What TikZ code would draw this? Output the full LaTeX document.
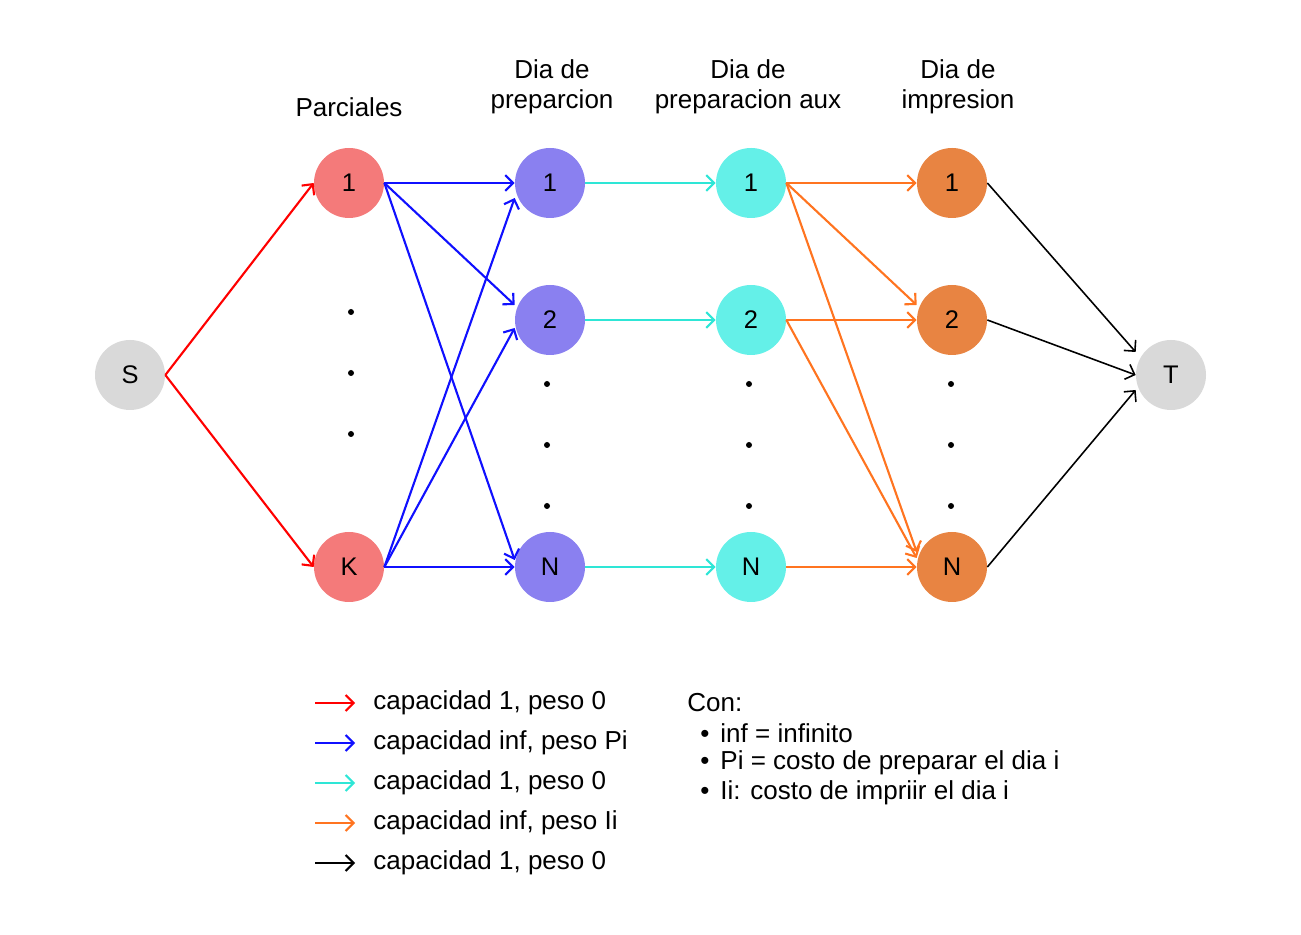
\documentclass[tikz,border=0pt]{standalone}
\usepackage{fontspec}
\setmainfont{Liberation Sans}
\usetikzlibrary{arrows.meta}

\definecolor{nodoparcial}{HTML}{F47A7A}
\definecolor{nodoprep}{HTML}{8A80F0}
\definecolor{nodoaux}{HTML}{64F0E8}
\definecolor{nodoimp}{HTML}{E88442}
\definecolor{nodoext}{HTML}{D9D9D9}
\definecolor{flechaazul}{HTML}{1010FF}
\definecolor{flechacian}{HTML}{2EE6D6}
\definecolor{flechanaranja}{HTML}{FF7420}

\tikzset{
	vertex/.style={circle,minimum size=1.4cm,inner sep=0pt,font=\fontsize{14.5}{17}\selectfont},
	edge/.style={line width=1.2pt,-{Straight Barb[length=4.5pt,width=9pt]}},
	header/.style={align=center,font=\fontsize{14.8}{17}\selectfont},
	legtext/.style={anchor=west,inner sep=0pt,font=\fontsize{14.8}{17}\selectfont}
}

\begin{document}
\begin{tikzpicture}

		\useasboundingbox (0,0) rectangle (26.02,18.68);

		% vertices
		\node[vertex,fill=nodoext] (S) at (2.6, 11.18) {S};
		\node[vertex,fill=nodoext] (T) at (23.42, 11.18) {T};

		\node[vertex,fill=nodoparcial] (P1) at (6.98, 15.02) {1};
		\node[vertex,fill=nodoparcial] (PK) at (6.98, 7.34) {K};

		\node[vertex,fill=nodoprep] (D1) at (11.0, 15.02) {1};
		\node[vertex,fill=nodoprep] (D2) at (11.0, 12.28) {2};
		\node[vertex,fill=nodoprep] (DN) at (11.0, 7.34) {N};

		\node[vertex,fill=nodoaux] (A1) at (15.02, 15.02) {1};
		\node[vertex,fill=nodoaux] (A2) at (15.02, 12.28) {2};
		\node[vertex,fill=nodoaux] (AN) at (15.02, 7.34) {N};

		\node[vertex,fill=nodoimp] (I1) at (19.04, 15.02) {1};
		\node[vertex,fill=nodoimp] (I2) at (19.04, 12.28) {2};
		\node[vertex,fill=nodoimp] (IN) at (19.04, 7.34) {N};

		% headers
		\node[header] (hP) at (6.98, 16.54) {Parciales};
		\node[header] (hD) at (11.04, 16.94) {Dia de\\preparcion};
		\node[header] (hA) at (14.96, 16.94) {Dia de\\preparacion aux};
		\node[header] (hI) at (19.16, 16.94) {Dia de\\impresion};

		% dots
		\foreach \y in {12.44, 11.22, 10.0}
		\fill (7.02, \y) circle (0.06);
		\foreach \x in {10.94, 14.98, 19.02}
		\foreach \y in {11.0, 9.78, 8.56}
		\fill (\x, \y) circle (0.06);

		% edges
		\foreach \dest in {P1, PK}
		\draw[edge,red] (S.east) -- (\dest.west);

		\foreach \source/\dest/\dy in {P1/D1/0, P1/D2/0.3, P1/DN/0.14, PK/D1/-0.3, PK/D2/-0.16, PK/DN/0}
		\draw[edge,flechaazul] (\source.east) -- ([yshift=\dy cm]\dest.west);

		\foreach \source/\dest in {D1/A1, D2/A2, DN/AN}
		\draw[edge,flechacian] (\source.east) -- (\dest.west);

		\foreach \source/\dest/\dy in {A1/I1/0, A1/I2/0.3, A1/IN/0.3, A2/I2/0, A2/IN/0.18, AN/IN/0}
		\draw[edge,flechanaranja] (\source.east) -- ([yshift=\dy cm]\dest.west);

		\foreach \source/\dy in {I1/0.46, I2/0, IN/-0.3}
		\draw[edge,line width=0.9pt] (\source.east) -- ([yshift=\dy cm]T.west);

		% legend
		\foreach \i/\y/\col/\txt in {1/4.62/red/{capacidad 1, peso 0},
				2/3.82/flechaazul/{capacidad inf, peso Pi},
				3/3.02/flechacian/{capacidad 1, peso 0},
				4/2.22/flechanaranja/{capacidad inf, peso Ii},
				5/1.42/black/{capacidad 1, peso 0}}
		{
			\coordinate (la\i) at (6.3, \y);
			\coordinate (lb\i) at (7.1, \y);
			\draw[edge,\col] (la\i) -- (lb\i);
			\node[legtext] (leg\i) at (7.46, \y) {\txt};
		}

		\node[legtext] (con) at (13.74, 4.62) {Con:};
		\node[legtext] (nota1) at (14.0, 4.02) {\textbullet\hspace{0.22cm}inf = infinito};
		\node[legtext] (nota2) at (14.0, 3.42) {\textbullet\hspace{0.22cm}Pi = costo de preparar el dia i};
		\node[legtext] (nota3) at (14.0, 2.82) {\textbullet\hspace{0.22cm}Ii: costo de impriir el dia i};

	\end{tikzpicture}
\end{document}
